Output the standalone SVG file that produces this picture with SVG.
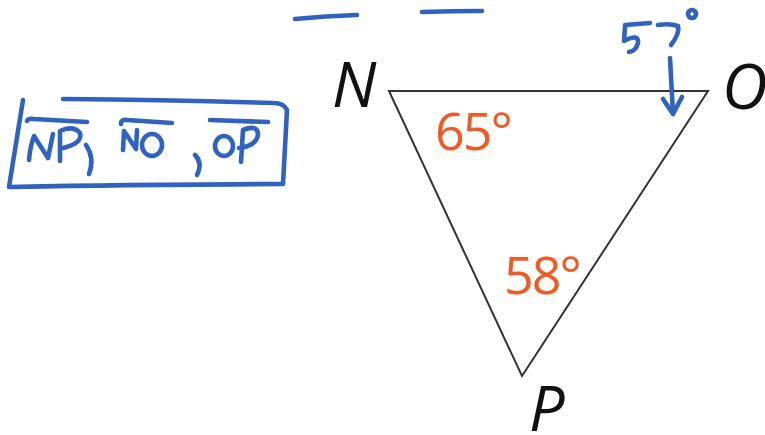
<svg xmlns="http://www.w3.org/2000/svg" width="765" height="435" viewBox="0 0 765 435">
<style>
.ink{fill:none;stroke:#2F63BF;stroke-width:4.6;stroke-linecap:round;stroke-linejoin:round}
.lbl{font-family:"Open Sans","Liberation Sans",sans-serif;font-style:italic;font-size:63px;fill:#111}
.ang{font-family:"Open Sans","Liberation Sans",sans-serif;font-size:52px;letter-spacing:-2px;fill:#F05A24}
</style>
<rect width="765" height="435" fill="#fff"/>
<g id="triangle">
<polygon points="389,91 708,91 522,376" fill="none" stroke="#333" stroke-width="2"/>
</g>
<g id="labels">
<text class="lbl" x="332" y="107">N</text>
<text class="lbl" x="722" y="109">O</text>
<text class="lbl" x="529" y="431">P</text>
<text class="ang" x="435" y="150">65°</text>
<text class="ang" x="504" y="294">58°</text>
</g>
<g id="top-strokes">
<path class="ink" d="M295,19 Q325,16 357,15"/>
<path class="ink" d="M422,12 Q452,11 482,11"/>
</g>
<g id="box">
<path class="ink" d="M23,100 L9,187 Q100,185 283,184 Q285,150 287,110 Q284,103 273,103 Q170,100 63,99"/>
<path class="ink" d="M27,121 Q28,118 34,119 L87,122"/>
<path class="ink" d="M29,160 Q30,147 34,136 L48,158 L53,134"/>
<path class="ink" d="M60,161 L60,131 Q73,125 80,133 Q83,143 63,148"/>
<path class="ink" d="M86,145 Q95,158 89,174"/>
<path class="ink" d="M121,124 Q121,119 127,120 L172,123"/>
<path class="ink" d="M123,150 L124,131 L136,149 L137,130"/>
<ellipse class="ink" cx="152" cy="145" rx="10" ry="11"/>
<path class="ink" d="M195,155 Q203,163 197,175"/>
<path class="ink" d="M210,120 L268,122"/>
<ellipse class="ink" cx="224" cy="146" rx="9" ry="10"/>
<path class="ink" d="M241,162 L243,130 Q258,124 258,135 Q256,146 239,148"/>
</g>
<g id="annotation-57">
<path class="ink" d="M625,25 L650,23 M625,27 L624,41 Q639,33 638,43 Q636,51 629,52"/>
<path class="ink" d="M658,25 Q670,23 678,26 Q680,33 671,45"/>
<circle class="ink" cx="692" cy="14" r="4"/>
</g>
<g id="connectors">
<path class="ink" d="M670,58 L673,114 M663,99 L673,114 L682,97"/>
</g>
</svg>
